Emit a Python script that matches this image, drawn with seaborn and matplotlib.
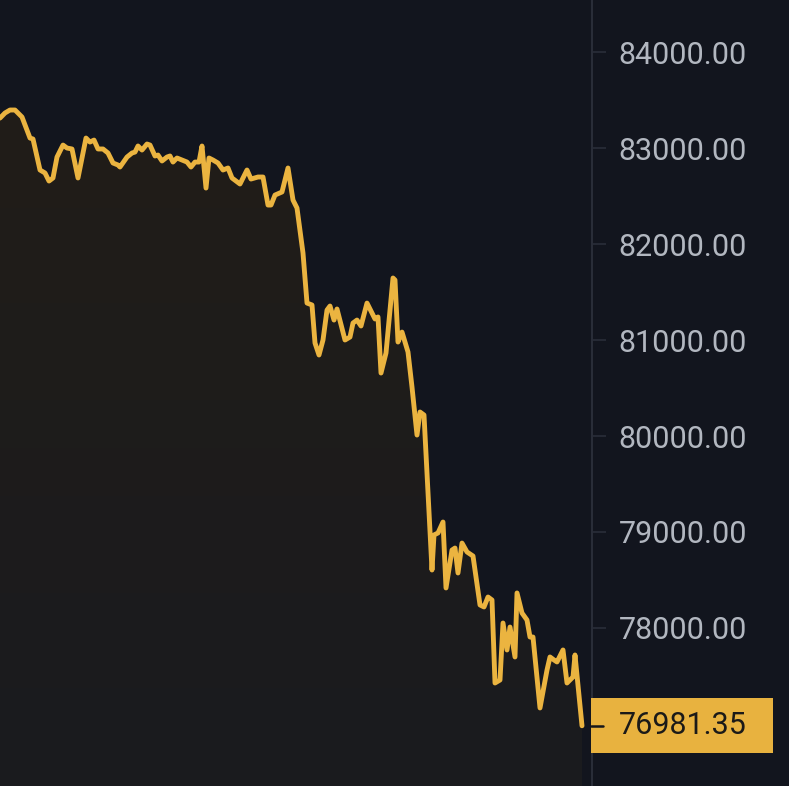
import numpy as np
import pandas as pd
import seaborn as sns
import matplotlib
import matplotlib.pyplot as plt
import matplotlib.transforms as mtransforms
from matplotlib.patches import Rectangle, Polygon
from matplotlib.colors import LinearSegmentedColormap

matplotlib.use('Agg')

# price trace (minutes from left edge, price)
minute = [0, 5, 10, 15, 22, 30, 33, 40, 45, 49, 53, 57, 63, 67, 72, 78, 86, 90, 94, 98,
          103, 108, 113, 118, 120, 127, 132, 135, 138, 142, 147, 150, 155, 158, 162, 167, 170, 173, 177, 182,
          187, 191, 195, 199, 202, 206, 209, 213, 218, 223, 228, 232, 240, 247, 251, 258, 263, 268, 271, 275,
          282, 288, 293, 297, 303, 307, 312, 315, 319, 323, 327, 330, 334, 337, 345, 350, 353, 357, 361, 367,
          375, 378, 381, 386, 393, 395, 398, 402, 408, 412, 417, 420, 424, 432, 434, 438, 443, 446, 452, 455,
          458, 462, 467, 473, 480, 484, 488, 492, 495, 500, 503, 507, 510, 515, 517, 522, 527, 530, 533, 540,
          547, 550, 554, 557, 563, 567, 573, 575, 582]
price = [83312, 83365, 83396, 83396, 83323, 83104, 83094, 82771, 82740, 82656, 82688, 82906, 83031, 83000, 82990, 82688, 83104, 83062, 83083, 82990,
         82990, 82948, 82844, 82823, 82802, 82906, 82948, 82958, 83021, 82979, 83042, 83031, 82917, 82927, 82865, 82906, 82917, 82854, 82896, 82875,
         82854, 82802, 82854, 82854, 83021, 82583, 82896, 82875, 82844, 82771, 82792, 82688, 82625, 82771, 82677, 82698, 82698, 82406, 82406, 82510,
         82542, 82792, 82458, 82375, 81906, 81385, 81365, 80969, 80844, 81000, 81312, 81354, 81208, 81323, 81000, 81031, 81177, 81208, 81146, 81385,
         81219, 81240, 80656, 80865, 81646, 81625, 80979, 81083, 80875, 80510, 80010, 80250, 80219, 78604, 78969, 78990, 79104, 78417, 78812, 78833,
         78573, 78885, 78792, 78750, 78240, 78219, 78323, 78292, 77427, 77458, 78052, 77771, 78010, 77698, 78365, 78156, 78083, 77906, 77906, 77167,
         77562, 77698, 77667, 77646, 77771, 77427, 77490, 77719, 76981.35]
tick_values = [78000, 79000, 80000, 81000, 82000, 83000, 84000]
tick_labels = [f'{v:.2f}' for v in tick_values]
last_price = 76981.35

BG = '#12151e'
GOLD = '#ebb440'
AXIS = '#2a2e39'

sns.set_style('dark')
plt.rcParams['font.family'] = ['Roboto', 'DejaVu Sans']

df = pd.DataFrame({'minute': minute, 'price': price})

fig = plt.figure(figsize=(7.89, 7.86), dpi=100, facecolor=BG)
ax = fig.add_axes([0, 0, 592 / 789, 1])
ax.set_facecolor(BG)

ylo, yhi = 76354, 84542
xlo, xhi = 0, 592

# gradient fill under the line
grad = np.linspace(0, 1, 256).reshape(-1, 1)
cmap = LinearSegmentedColormap.from_list('fill', ['#1a1b1f', '#211d18'])
im = ax.imshow(grad, extent=[xlo, xhi, ylo, max(price)], origin='lower',
               aspect='auto', cmap=cmap, zorder=1)
verts = list(zip(minute, price)) + [(minute[-1], ylo), (minute[0], ylo)]
poly = Polygon(verts, closed=True, facecolor='none', edgecolor='none')
ax.add_patch(poly)
im.set_clip_path(poly)

sns.lineplot(data=df, x='minute', y='price', color=GOLD, lw=3.5, ax=ax, zorder=3)

ax.set_xlim(xlo, xhi)
ax.set_ylim(ylo, yhi)
ax.set_xlabel('')
ax.set_ylabel('')
ax.grid(False)

for s in ['top', 'left', 'bottom']:
    ax.spines[s].set_visible(False)
ax.spines['right'].set_visible(True)
ax.spines['right'].set_color(AXIS)
ax.spines['right'].set_linewidth(1.4)

ax.set_xticks([])
ax.yaxis.tick_right()
ax.set_yticks(tick_values)
ax.set_yticklabels(tick_labels)
ax.tick_params(axis='y', length=10, width=1.2, color=AXIS, pad=9,
               labelsize=22, labelcolor='#b2b7c0')

# last price tag
trans = mtransforms.blended_transform_factory(ax.transAxes, ax.transData)
half_h = 27.5 / 96 * 1000
ax.add_patch(Rectangle((591 / 592, last_price - half_h), (773 - 591) / 592, 2 * half_h,
                       transform=trans, clip_on=False, facecolor='#e8b23f',
                       edgecolor='none', zorder=5))
ax.plot([591 / 592, 603 / 592], [last_price, last_price], color='#15161a', lw=1.8,
        transform=trans, clip_on=False, zorder=6)
ax.text(619 / 592, last_price, f'{last_price:.2f}', transform=trans, ha='left',
        va='center', fontsize=22, color='#1b1a18', zorder=7, clip_on=False)

fig.savefig('out.png', dpi=100, facecolor=BG)
